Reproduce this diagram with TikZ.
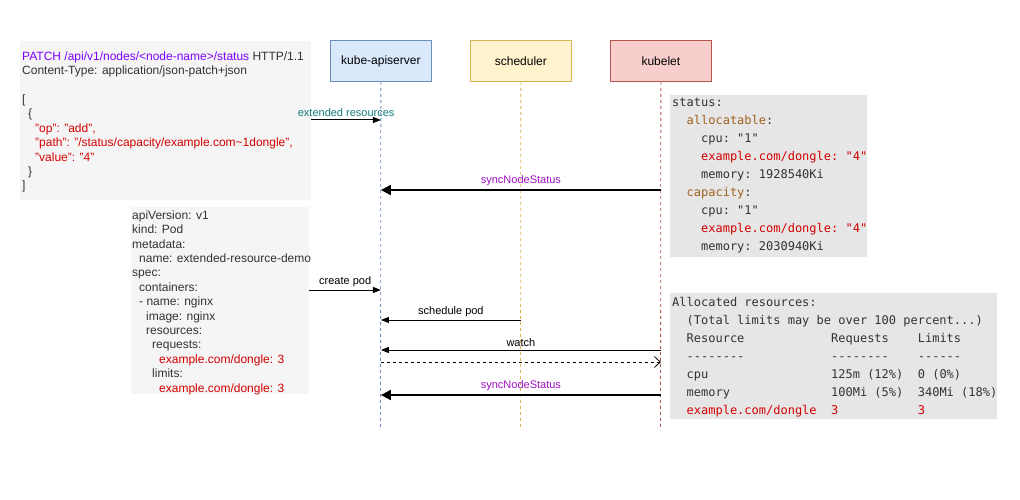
\documentclass[tikz,border=0pt]{standalone}
\usepackage{fontspec}
\setmainfont{Liberation Sans}
\setmonofont{DejaVu Sans Mono}
\usetikzlibrary{arrows.meta}

\definecolor{apifill}{HTML}{DAE8FC}
\definecolor{apiline}{HTML}{6C8EBF}
\definecolor{schedfill}{HTML}{FFF2CC}
\definecolor{schedline}{HTML}{D6B656}
\definecolor{kubefill}{HTML}{F8CECC}
\definecolor{kubeline}{HTML}{B85450}
\definecolor{codegray}{HTML}{F5F5F5}
\definecolor{termgray}{HTML}{E6E6E6}
\definecolor{codetxt}{HTML}{333333}
\definecolor{keyred}{HTML}{D40000}
\definecolor{reqpurple}{HTML}{7F00FF}
\definecolor{syncpurple}{HTML}{A010C0}
\definecolor{extteal}{HTML}{137A7A}
\definecolor{yamlkey}{HTML}{A0621E}

\newcommand{\ind}[1]{\hspace*{#1pt}}

\tikzset{
  actor/.style={draw=#1line, fill=#1fill, line width=0.8pt, minimum width=101pt,
    minimum height=41pt, anchor=north west, font=\fontsize{12}{14}\selectfont},
  lifeline/.style={draw=#1line, line width=0.8pt, dash pattern=on 3pt off 3pt},
  codebox/.style={fill=#1, anchor=north west, inner sep=0pt},
  codetext/.style={anchor=north west, inner sep=0pt, align=left, text=codetxt,
    font=\fontsize{12}{14.4}\selectfont},
  termtext/.style={anchor=north west, inner sep=0pt, align=left, text=codetxt,
    font=\fontsize{12}{18}\selectfont\ttfamily\frenchspacing},
  msg/.style={line width=1pt, -{Triangle[length=8pt,width=6pt]}},
  syncmsg/.style={line width=2pt, -{Triangle[length=10pt,width=10pt]}},
  replymsg/.style={line width=0.8pt, dash pattern=on 3pt off 3pt,
    -{Straight Barb[length=6pt,width=11pt,line width=0.8pt]}},
  msglabel/.style={above=2pt, inner sep=1pt, font=\fontsize{11}{13}\selectfont}
}

\begin{document}
\begin{tikzpicture}[x=1pt,y=-1pt]
\useasboundingbox (0,0) rectangle (1020,500);

% text boxes
\node[codebox=codegray, minimum width=291pt, minimum height=159pt] (patchbox) at (20,41) {};
\node[codebox=codegray, minimum width=178pt, minimum height=187pt] (podbox) at (131,207) {};
\node[codebox=termgray, minimum width=197pt, minimum height=162pt] (statusbox) at (670,95) {};
\node[codebox=termgray, minimum width=327pt, minimum height=126pt] (allocbox) at (670,293) {};

\node[codetext] (patch) at (22,51.5) {%
  \textcolor{reqpurple}{PATCH /api/v1/nodes/<node-name>/status} HTTP/1.1\\
  Content-Type: application/json-patch+json\\[14.4pt]
  [\\
  \ind{6}\{\\
  \color{keyred}\ind{13}"op": "add",\\
  \color{keyred}\ind{13}"path": "/status/capacity/example.com\textasciitilde 1dongle",\\
  \color{keyred}\ind{13}"value": "4"\\
  \ind{6}\}\\
  ]};

\node[codetext] (pod) at (132,210.5) {%
  apiVersion: v1\\
  kind: Pod\\
  metadata:\\
  \ind{7}name: extended-resource-demo\\
  spec:\\
  \ind{7}containers:\\
  \ind{7}- name: nginx\\
  \ind{14}image: nginx\\
  \ind{14}resources:\\
  \ind{20}requests:\\
  \color{keyred}\ind{27}example.com/dongle: 3\\
  \ind{20}limits:\\
  \color{keyred}\ind{27}example.com/dongle: 3};

\node[termtext] (status) at (672,98) {%
  status:\\
  ~~\textcolor{yamlkey}{allocatable}:\\
  ~~~~cpu: "1"\\
  \color{keyred}~~~~example.com/dongle: "4"\\
  ~~~~memory: 1928540Ki\\
  ~~\textcolor{yamlkey}{capacity}:\\
  ~~~~cpu: "1"\\
  \color{keyred}~~~~example.com/dongle: "4"\\
  ~~~~memory: 2030940Ki};

\node[termtext] (alloc) at (672,297) {%
  Allocated resources:\\
  ~~(Total limits may be over 100 percent...)\\
  ~~Resource~~~~~~~~~~~~Requests~~~~Limits\\
  ~~--------~~~~~~~~~~~~--------~~~~------\\
  ~~cpu~~~~~~~~~~~~~~~~~125m (12\%)~~0 (0\%)\\
  ~~memory~~~~~~~~~~~~~~100Mi (5\%)~~340Mi (18\%)\\
  \color{keyred}~~example.com/dongle~~3~~~~~~~~~~~3};

% participants
\node[actor=api] (api) at (330,40) {kube-apiserver};
\node[actor=sched] (sched) at (470,40) {scheduler};
\node[actor=kube] (kubelet) at (610,40) {kubelet};

\coordinate (apiend) at (380.5,430);
\coordinate (schedend) at (520.5,430);
\coordinate (kubeend) at (660.5,430);
\draw[lifeline=api] (api.south) -- (apiend);
\draw[lifeline=sched] (sched.south) -- (schedend);
\draw[lifeline=kube] (kubelet.south) -- (kubeend);

% messages
\draw[msg] (patchbox.east |- 0,120) -- (api.south |- 0,120)
  node[msglabel, midway, text=extteal] {extended resources};
\draw[syncmsg] (kubelet.south |- 0,190) -- (api.south |- 0,190)
  node[msglabel, midway, text=syncpurple] {syncNodeStatus};
\draw[msg] (podbox.east |- 0,290) -- (api.south |- 0,290)
  node[msglabel, midway] {create pod};
\draw[msg] (sched.south |- 0,320) -- (api.south |- 0,320)
  node[msglabel, midway] {schedule pod};
\draw[msg] (kubelet.south |- 0,350) -- (api.south |- 0,350)
  node[msglabel, midway] {watch};
\draw[replymsg] (api.south |- 0,362) -- (kubelet.south |- 0,362);
\draw[syncmsg] (kubelet.south |- 0,395) -- (api.south |- 0,395)
  node[msglabel, midway, text=syncpurple] {syncNodeStatus};
\end{tikzpicture}
\end{document}
